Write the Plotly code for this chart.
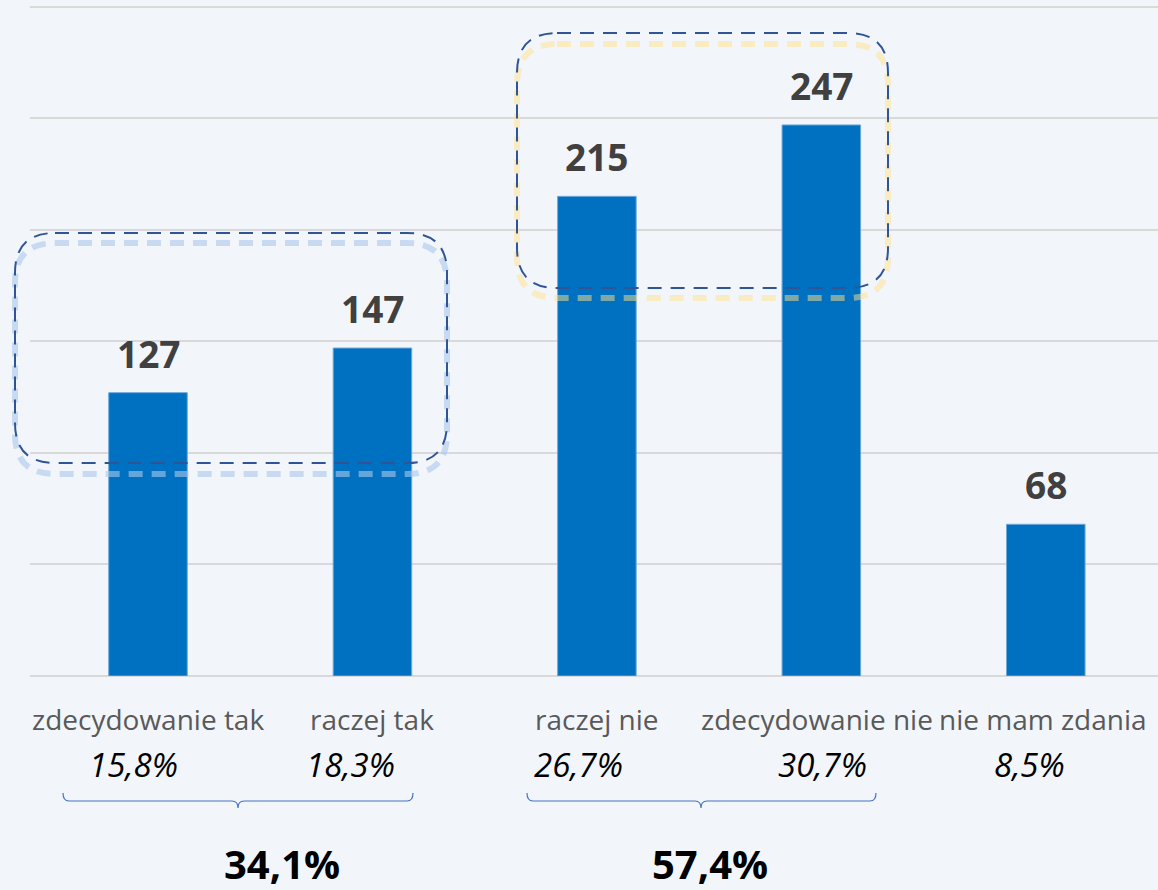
import plotly.graph_objects as go

categories = ["zdecydowanie tak", "raczej tak", "raczej nie", "zdecydowanie nie", "nie mam zdania"]
counts = [127, 147, 215, 247, 68]
percent_labels = ["15,8%", "18,3%", "26,7%", "30,7%", "8,5%"]
group_labels = ["34,1%", "57,4%"]

W, H = 1158, 890
ML, MR, MT, MB = 30, 0, 0, 214
PW, PH = W - ML - MR, H - MT - MB


def px(x):
    return (x - ML) / PW


def py(y):
    return (MT + PH - y) / PH


def rrect(x0, y0, x1, y1, r):
    pts = [
        ("M", [(x0 + r, y0)]), ("L", [(x1 - r, y0)]), ("Q", [(x1, y0), (x1, y0 + r)]),
        ("L", [(x1, y1 - r)]), ("Q", [(x1, y1), (x1 - r, y1)]),
        ("L", [(x0 + r, y1)]), ("Q", [(x0, y1), (x0, y1 - r)]),
        ("L", [(x0, y0 + r)]), ("Q", [(x0, y0), (x0 + r, y0)]),
    ]
    s = ""
    for cmd, ps in pts:
        s += cmd + " " + " ".join(f"{px(a):.5f},{py(b):.5f}" for a, b in ps) + " "
    return s + "Z"


def brace(x0, x1, xt, ytop, ymid, ybot):
    c = 6
    segs = [
        ("M", [(x0, ytop)]), ("Q", [(x0, ymid), (x0 + c, ymid)]),
        ("L", [(xt - c, ymid)]), ("Q", [(xt, ymid), (xt, ybot)]),
        ("Q", [(xt, ymid), (xt + c, ymid)]), ("L", [(x1 - c, ymid)]),
        ("Q", [(x1, ymid), (x1, ytop)]),
    ]
    s = ""
    for cmd, ps in segs:
        s += cmd + " " + " ".join(f"{px(a):.5f},{py(b):.5f}" for a, b in ps) + " "
    return s


fig = go.Figure()
fig.add_trace(go.Bar(
    x=categories, y=counts, width=0.35,
    marker=dict(color="#0070C0", line=dict(color="#6FA8DC", width=1)),
    hoverinfo="skip",
))

ann = []
# value labels
for c, v in zip(categories, counts):
    ann.append(dict(x=c, y=v, xref="x", yref="y", text=f"<b>{v}</b>", showarrow=False,
                    yanchor="bottom", yshift=12,
                    font=dict(family="Open Sans", size=37, color="#404040")))

label_shift = [0, 0, 0, -4, -3]
pct_shift = [-15, -22, -18, 1, -16]
for c, s, p, ps in zip(categories, label_shift, percent_labels, pct_shift):
    ann.append(dict(x=c, y=py(719), xref="x", yref="paper", text=c, showarrow=False,
                    xshift=s, yanchor="middle",
                    font=dict(family="Open Sans", size=28, color="#595959")))
    ann.append(dict(x=c, y=py(764), xref="x", yref="paper", text=f"<i>{p}</i>", showarrow=False,
                    xshift=ps, yanchor="middle",
                    font=dict(family="Open Sans", size=33, color="#000000")))

for xc, g in zip([222, 710], group_labels):
    ann.append(dict(x=px(xc), y=py(863), xref="paper", yref="paper", text=f"<b>{g}</b>",
                    showarrow=False, yanchor="middle",
                    font=dict(family="Open Sans", size=40, color="#000000")))

shapes = []
# glows
shapes.append(dict(type="path", xref="paper", yref="paper", path=rrect(15, 243, 447, 474, 40),
                   line=dict(color="rgba(170,200,235,0.6)", width=6, dash="14px,9px")))
shapes.append(dict(type="path", xref="paper", yref="paper", path=rrect(517, 44, 888, 298, 40),
                   line=dict(color="rgba(255,225,140,0.5)", width=6, dash="14px,9px")))
# boxes
shapes.append(dict(type="path", xref="paper", yref="paper", path=rrect(15, 233, 447, 463, 40),
                   line=dict(color="#2F5597", width=2, dash="14px,9px")))
shapes.append(dict(type="path", xref="paper", yref="paper", path=rrect(517, 33, 888, 288, 40),
                   line=dict(color="#2F5597", width=2, dash="14px,9px")))
# braces
shapes.append(dict(type="path", xref="paper", yref="paper", path=brace(63, 413, 238, 793, 801, 808),
                   line=dict(color="#4472C4", width=1.2)))
shapes.append(dict(type="path", xref="paper", yref="paper", path=brace(527, 876, 701, 793, 801, 808),
                   line=dict(color="#4472C4", width=1.2)))

fig.update_layout(
    width=W, height=H,
    margin=dict(l=ML, r=MR, t=MT, b=MB, pad=0),
    paper_bgcolor="#F2F6FB", plot_bgcolor="#F2F6FB",
    showlegend=False,
    bargap=0.65,
    xaxis=dict(showticklabels=False, showgrid=False, zeroline=False, ticks="",
               showline=False),
    yaxis=dict(range=[0, 303], dtick=50, showticklabels=False, showgrid=True,
               gridcolor="#D9D9D9", gridwidth=1.5, zeroline=True, zerolinecolor="#D9D9D9",
               zerolinewidth=1.5, ticks="", showline=False),
    annotations=ann, shapes=shapes,
)

fig.write_html("out.html", config={"displayModeBar": False},
               post_script="document.body.style.margin='0';document.body.style.padding='0';"
                           "document.body.style.background='#F2F6FB';")
